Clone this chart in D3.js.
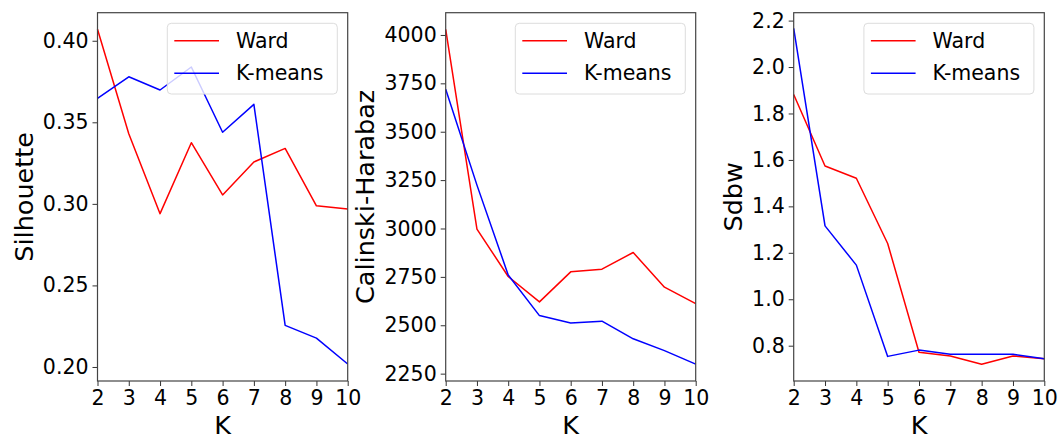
<!DOCTYPE html>
<html>
<head>
<meta charset="utf-8">
<script src="https://cdn.jsdelivr.net/npm/d3@7"></script>
<style>
html,body{margin:0;padding:0;background:#fff;}
svg{display:block;font-family:"DejaVu Sans",sans-serif;}
</style>
</head>
<body>
<svg id="chart" width="1059" height="439"></svg>
<script>
const ks = [2,3,4,5,6,7,8,9,10];
const seriesNames = ["Ward","K-means"];
const seriesColors = ["#ff0000","#0000ff"];

const silWard   = [0.407,0.343,0.294,0.3375,0.3055,0.3257,0.334,0.2988,0.2968];
const silKmeans = [0.3647,0.3779,0.3698,0.3839,0.3439,0.361,0.2255,0.2177,0.2018];
const silTicks  = [0.20,0.25,0.30,0.35,0.40];

const chWard   = [4029,2997,2752,2621,2776,2790,2876,2697,2612];
const chKmeans = [3719,3224,2760,2550,2512,2521,2430,2369,2299];
const chTicks  = [2250,2500,2750,3000,3250,3500,3750,4000];

const sdWard   = [1.882,1.574,1.521,1.240,0.772,0.756,0.720,0.756,0.744];
const sdKmeans = [2.167,1.316,1.147,0.754,0.781,0.763,0.763,0.763,0.744];
const sdTicks  = [0.8,1.0,1.2,1.4,1.6,1.8,2.0,2.2];

const panels = [
  {label:"Silhouette", series:[silWard,silKmeans], ticks:silTicks, fmt:d3.format(".2f"),
   left:97.5, right:347.7, ydom:[0.1914,0.4172], labelX:24},
  {label:"Calinski-Harabaz", series:[chWard,chKmeans], ticks:chTicks, fmt:d3.format("d"),
   left:445.7, right:695.7, ydom:[2212,4115], labelX:365},
  {label:"Sdbw", series:[sdWard,sdKmeans], ticks:sdTicks, fmt:d3.format(".1f"),
   left:793.7, right:1044.3, ydom:[0.648,2.234], labelX:733}
];

const plotTop = 12.7, plotBottom = 381;
const tickFont = 20.5, labelFont = 25.5;
const svg = d3.select("#chart");

panels.forEach(p => {
  const x = d3.scaleLinear().domain([2,10]).range([p.left,p.right]);
  const y = d3.scaleLinear().domain(p.ydom).range([plotBottom,plotTop]);
  const g = svg.append("g");

  p.series.forEach((vals,i) => {
    const line = d3.line().x((d,j)=>x(ks[j])).y(d=>y(d));
    g.append("path").datum(vals).attr("d",line)
      .attr("fill","none").attr("stroke",seriesColors[i])
      .attr("stroke-width",1.5).attr("stroke-linejoin","round");
  });

  const xa = g.append("g").attr("transform",`translate(0,${plotBottom})`)
    .call(d3.axisBottom(x).tickValues(ks).tickFormat(d3.format("d")).tickSize(5).tickPadding(4).tickSizeOuter(0));
  xa.select(".domain").remove();
  xa.selectAll("line").attr("stroke","#333");
  xa.selectAll("text").attr("font-size",tickFont).attr("fill","#000").attr("font-family","DejaVu Sans");

  const ya = g.append("g").attr("transform",`translate(${p.left},0)`)
    .call(d3.axisLeft(y).tickValues(p.ticks).tickFormat(p.fmt).tickSize(5).tickPadding(4).tickSizeOuter(0));
  ya.select(".domain").remove();
  ya.selectAll("line").attr("stroke","#333");
  ya.selectAll("text").attr("font-size",tickFont).attr("fill","#000").attr("font-family","DejaVu Sans");

  g.append("rect").attr("x",p.left).attr("y",plotTop)
    .attr("width",p.right-p.left).attr("height",plotBottom-plotTop)
    .attr("fill","none").attr("stroke","#444").attr("stroke-width",1.2);

  g.append("text").attr("x",(p.left+p.right)/2).attr("y",434)
    .attr("text-anchor","middle").attr("font-size",labelFont).attr("fill","#000").text("K");
  g.append("text")
    .attr("transform",`translate(${p.labelX},${(plotTop+plotBottom)/2}) rotate(-90)`)
    .attr("text-anchor","middle").attr("dominant-baseline","central")
    .attr("font-size",labelFont).attr("fill","#000").text(p.label);

  const lw = 170, lh = 70.7;
  const lx = p.right - 10.4 - lw, ly = plotTop + 10.6;
  const lg = g.append("g").attr("transform",`translate(${lx},${ly})`);
  lg.append("rect").attr("width",lw).attr("height",lh).attr("rx",4)
    .attr("fill","rgba(255,255,255,0.8)").attr("stroke","#dcdcdc").attr("stroke-width",1);
  seriesNames.forEach((n,i) => {
    const ry = 17.4 + i*32.6;
    lg.append("line").attr("x1",7).attr("x2",51.7).attr("y1",ry).attr("y2",ry)
      .attr("stroke",seriesColors[i]).attr("stroke-width",1.5);
    lg.append("text").attr("x",68.7).attr("y",ry).attr("dominant-baseline","central")
      .attr("font-size",tickFont).attr("fill","#000").text(n);
  });
});
</script>
</body>
</html>
